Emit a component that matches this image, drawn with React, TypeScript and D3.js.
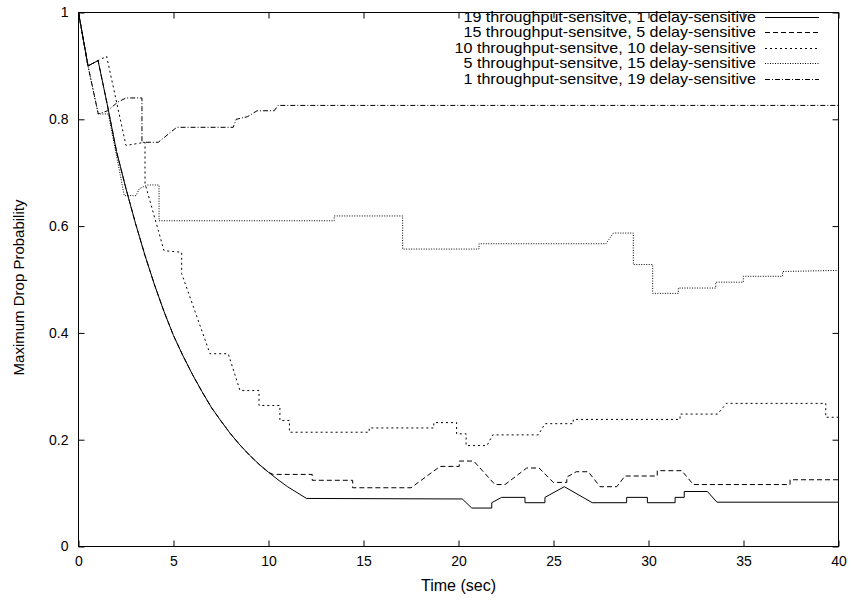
import React, { useEffect, useRef } from "react";
import * as d3 from "d3";

// time (sec), max drop probability
const earlyDecay: [number, number][] = [
  [0, 1], [0.5, 0.9], [1.03, 0.91], [1.5, 0.83], [2, 0.74], [2.5, 0.67],
  [3, 0.605], [3.5, 0.545], [4, 0.49], [4.5, 0.44], [5, 0.395], [5.5, 0.357],
  [6, 0.322], [6.5, 0.29], [7, 0.26], [7.5, 0.235], [8, 0.211], [8.5, 0.19],
  [9, 0.171], [9.5, 0.154], [10, 0.139], [10.5, 0.125], [11, 0.112],
  [11.5, 0.101], [12, 0.09],
];

const tail19: [number, number][] = [
  [20.2, 0.089], [20.7, 0.072], [21.75, 0.072], [21.75, 0.082], [22.27, 0.092],
  [23.5, 0.092], [23.5, 0.082], [24.55, 0.082], [24.55, 0.092], [25.57, 0.112],
  [27.04, 0.082], [28.85, 0.082], [28.85, 0.092], [29.94, 0.092], [29.94, 0.082],
  [31.4, 0.082], [31.4, 0.092], [31.88, 0.092], [31.88, 0.103], [33.1, 0.103],
  [33.6, 0.083], [40, 0.083],
];

const tail15: [number, number][] = [
  [10.25, 0.135], [12.3, 0.135], [12.3, 0.124], [14.43, 0.124], [14.43, 0.11],
  [17.5, 0.11], [19.03, 0.15], [20.04, 0.15], [20.04, 0.16], [20.8, 0.16],
  [21.92, 0.116], [22.45, 0.116], [23.59, 0.147], [24.24, 0.147], [24.99, 0.12],
  [25.7, 0.12], [25.7, 0.13], [26.2, 0.14], [26.83, 0.14], [27.45, 0.112],
  [28.33, 0.112], [28.76, 0.132], [30.46, 0.132], [30.46, 0.142], [31.75, 0.142],
  [32.36, 0.116], [37.45, 0.116], [37.45, 0.125], [40, 0.125],
];

const series10: [number, number][] = [
  [0, 1], [0.5, 0.9], [1.03, 0.91], [1.48, 0.918], [2.5, 0.751], [3.5, 0.757],
  [3.5, 0.68], [4.5, 0.554], [5.43, 0.551], [5.43, 0.511], [6.92, 0.361],
  [7.88, 0.361], [8.5, 0.292], [9.5, 0.292], [9.5, 0.264], [10.6, 0.264],
  [10.6, 0.236], [11.1, 0.236], [11.1, 0.214], [15.3, 0.214], [15.3, 0.222],
  [18.7, 0.222], [18.7, 0.232], [19.9, 0.232], [19.9, 0.211], [20.4, 0.211],
  [20.4, 0.189], [21.5, 0.189], [21.8, 0.209], [24.2, 0.209], [24.55, 0.23],
  [26.04, 0.23], [26.04, 0.238], [31.66, 0.238], [31.66, 0.248], [33.64, 0.248],
  [34.1, 0.268], [39.33, 0.268], [39.33, 0.242], [40, 0.242],
];

const series5: [number, number][] = [
  [0, 1], [0.5, 0.9], [1.04, 0.81], [1.57, 0.81], [2.41, 0.657], [3.03, 0.657],
  [3.2, 0.67], [3.63, 0.677], [4.24, 0.677], [4.24, 0.61], [13.46, 0.61],
  [13.46, 0.619], [17.06, 0.619], [17.06, 0.557], [21.08, 0.557], [21.08, 0.567],
  [27.76, 0.567], [28.15, 0.587], [29.2, 0.587], [29.2, 0.528], [30.22, 0.528],
  [30.22, 0.474], [31.57, 0.474], [31.57, 0.484], [33.54, 0.484], [33.54, 0.495],
  [34.99, 0.495], [34.99, 0.506], [37.06, 0.506], [37.06, 0.515], [40, 0.517],
];

const series1: [number, number][] = [
  [0, 1], [0.5, 0.9], [1.04, 0.81], [1.53, 0.816], [2.06, 0.832], [2.5, 0.84],
  [3.34, 0.84], [3.34, 0.757], [4.2, 0.757], [5.17, 0.785], [8.14, 0.785],
  [8.3, 0.8], [8.9, 0.805], [9.4, 0.816], [10.3, 0.816], [10.5, 0.826],
  [40, 0.826],
];

const seriesNames = [
  "19 throughput-sensitve, 1 delay-sensitive",
  "15 throughput-sensitve, 5 delay-sensitive",
  "10 throughput-sensitve, 10 delay-sensitive",
  "5 throughput-sensitve, 15 delay-sensitive",
  "1 throughput-sensitve, 19 delay-sensitive",
];
const dashes = ["none", "5,3", "2,3", "1,1.5", "5,2,1,2"];

const xTicks = [0, 5, 10, 15, 20, 25, 30, 35, 40];
const yTicks = [0, 0.2, 0.4, 0.6, 0.8, 1];
const yTickLabels = ["0", "0.2", "0.4", "0.6", "0.8", "1"];

const FONT = "'Liberation Sans', Arial, Helvetica, sans-serif";

export default function App() {
  const ref = useRef<SVGSVGElement>(null);

  useEffect(() => {
    const svg = d3.select(ref.current);
    svg.selectAll("*").remove();

    const W = 851;
    const H = 603;
    const x = d3.scaleLinear().domain([0, 40]).range([78.5, 838.5]);
    const y = d3.scaleLinear().domain([0, 1]).range([546.5, 12.5]);

    svg.append("rect").attr("width", W).attr("height", H).attr("fill", "white");

    const allSeries = [
      earlyDecay.concat(tail19),
      earlyDecay.filter((d) => d[0] <= 10).concat(tail15),
      series10,
      series5,
      series1,
    ];

    // axes with inward ticks
    const fmtY = (d: number) => yTickLabels[yTicks.indexOf(d)];
    const styleAxis = (g: any) => {
      g.select(".domain").remove();
      g.selectAll("line").attr("stroke", "#000");
      g.selectAll("text")
        .attr("font-family", FONT)
        .attr("font-size", 14)
        .attr("fill", "#000");
    };

    svg.append("g")
      .attr("transform", `translate(0,${y(0)})`)
      .call(d3.axisBottom(x).tickValues(xTicks).tickSizeInner(-6).tickSizeOuter(0).tickPadding(10).tickFormat((d: any) => String(d)))
      .call(styleAxis);
    svg.append("g")
      .attr("transform", `translate(0,${y(1)})`)
      .call(d3.axisTop(x).tickValues(xTicks).tickSizeInner(-6).tickSizeOuter(0).tickFormat(() => ""))
      .call(styleAxis);
    svg.append("g")
      .attr("transform", `translate(${x(0)},0)`)
      .call(d3.axisLeft(y).tickValues(yTicks).tickSizeInner(-6).tickSizeOuter(0).tickPadding(10).tickFormat((d: any) => fmtY(d)))
      .call(styleAxis);
    svg.append("g")
      .attr("transform", `translate(${x(40)},0)`)
      .call(d3.axisRight(y).tickValues(yTicks).tickSizeInner(-6).tickSizeOuter(0).tickFormat(() => ""))
      .call(styleAxis);

    const line = d3
      .line<[number, number]>()
      .x((d) => x(d[0]))
      .y((d) => y(d[1]));

    allSeries.forEach((s, i) => {
      svg.append("path")
        .datum(s)
        .attr("fill", "none")
        .attr("stroke", "#000")
        .attr("stroke-width", 1)
        .attr("stroke-dasharray", dashes[i])
        .attr("d", line);
    });

    svg.append("rect")
      .attr("x", x(0))
      .attr("y", y(1))
      .attr("width", x(40) - x(0))
      .attr("height", y(0) - y(1))
      .attr("fill", "none")
      .attr("stroke", "#000")
      .attr("stroke-width", 1);

    // legend (text slightly widened to match the original's wide glyphs)
    const leg = svg.append("g");
    seriesNames.forEach((name, i) => {
      const cy = 16.5 + i * 15.5;
      leg.append("text")
        .attr("transform", `translate(756,${cy + 5}) scale(1.15,1)`)
        .attr("text-anchor", "end")
        .attr("font-family", FONT)
        .attr("font-size", 14)
        .text(name);
      leg.append("line")
        .attr("x1", 765)
        .attr("x2", 819)
        .attr("y1", Math.round(cy) + 0.5)
        .attr("y2", Math.round(cy) + 0.5)
        .attr("stroke", "#000")
        .attr("stroke-dasharray", dashes[i]);
    });

    svg.append("text")
      .attr("x", (x(0) + x(40)) / 2)
      .attr("y", 591)
      .attr("text-anchor", "middle")
      .attr("font-family", FONT)
      .attr("font-size", 16)
      .text("Time (sec)");

    svg.append("text")
      .attr("transform", `translate(24,${(y(0) + y(1)) / 2 + 8}) rotate(-90)`)
      .attr("text-anchor", "middle")
      .attr("font-family", FONT)
      .attr("font-size", 15)
      .text("Maximum Drop Probability");
  }, []);

  return (
    <svg
      ref={ref}
      width={851}
      height={603}
      style={{ position: "absolute", left: 0, top: 0 }}
    ></svg>
  );
}
